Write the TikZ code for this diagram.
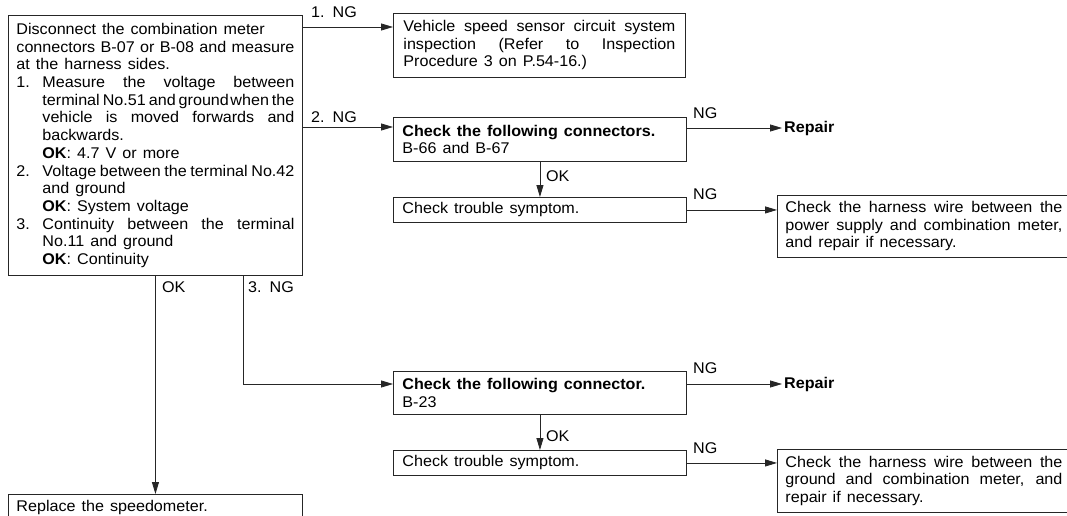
\documentclass[tikz,border=0pt]{standalone}
\usepackage{fontspec}
\setmainfont{Liberation Sans}[FakeStretch=1.04, WordSpace={1.35,1.3,2.5}]
\usetikzlibrary{arrows.meta}
\newdimen\hind \hind=26pt
\newcommand\JL[1]{\hbox to\hsize{#1}}
\newcommand\RL[1]{\hbox to\hsize{#1\hfil}}
\newcommand\HJ[2]{\hbox to\hsize{\hbox to\hind{#1\hss}#2}}
\newcommand\HI[1]{\hbox to\hsize{\hskip\hind\relax #1}}
\newcommand\HR[1]{\hbox to\hsize{\hskip\hind\relax #1\hfil}}
\newcommand\TB[3]{\vbox{\hsize=#1\fontsize{15.5}{#2}\selectfont\lineskiplimit=-5pt #3}}
\tikzset{
  box/.style={draw=black!85, line width=0.9pt, anchor=north west, inner sep=0pt},
  arr/.style={draw=black!85, line width=0.8pt, -{Triangle[length=12pt,width=7pt]}},
  lab/.style={anchor=base west, inner sep=0pt},
}
\begin{document}
\begin{tikzpicture}[x=1pt,y=-1pt, font=\fontsize{15.5}{17.5}\selectfont]
\clip (0,0) rectangle (1067,516);
\fill[white] (0,0) rectangle (1067,516);
% boxes
\node[box, minimum width=294pt, minimum height=260pt] (main) at (8,15) {\TB{278pt}{17.7pt}{%
\RL{Disconnect the combination meter}
\JL{connectors B-07 or B-08 and measure}
\RL{at the harness sides.}
\HJ{1.}{Measure the voltage between}
\HI{terminal\hskip 2.5pt plus 2pt No.51\hskip 2.5pt plus 2pt and\hskip 2.5pt plus 2pt ground\hskip 1pt plus 2pt when\hskip 2.5pt plus 2pt the}
\HI{vehicle is moved forwards and}
\HR{backwards.}
\HR{\textbf{OK}: 4.7 V or more}
\HJ{2.}{Voltage\hskip 3pt plus 2pt between\hskip 3pt plus 2pt the\hskip 3pt plus 2pt terminal\hskip 3pt plus 2pt No.42}
\HR{and ground}
\HR{\textbf{OK}: System voltage}
\HJ{3.}{Continuity between the terminal}
\HR{No.11 and ground}
\HR{\textbf{OK}: Continuity}}};
\node[box, minimum width=292pt, minimum height=64pt] (box1) at (393,13) {\TB{272pt}{17.5pt}{%
\JL{Vehicle speed sensor circuit system}
\JL{inspection (Refer to Inspection}
\RL{Procedure 3 on P.54-16.)}}};
\node[box, minimum width=293pt, minimum height=44pt] (box2) at (393,117) {\TB{275pt}{17.5pt}{%
\RL{\textbf{Check the following connectors.}}
\RL{B-66 and B-67}}};
\node[box, minimum width=293pt, minimum height=25pt] (box3) at (393,197) {\TB{275pt}{17.5pt}{%
\RL{Check trouble symptom.}}};
\node[box, minimum width=293pt, minimum height=62pt] (box4) at (777,195) {\TB{277pt}{17.5pt}{%
\JL{Check the harness wire between the}
\JL{power supply and combination meter,}
\RL{and repair if necessary.}}};
\node[box, minimum width=293pt, minimum height=43pt] (box5) at (393,371) {\TB{275pt}{17.5pt}{%
\RL{\textbf{Check the following connector.}}
\RL{B-23}}};
\node[box, minimum width=293pt, minimum height=25pt] (box6) at (393,450) {\TB{275pt}{17.5pt}{%
\RL{Check trouble symptom.}}};
\node[box, minimum width=293pt, minimum height=63pt] (box7) at (777,449) {\TB{277pt}{17.5pt}{%
\JL{Check the harness wire between the}
\JL{ground and combination meter, and}
\RL{repair if necessary.}}};
\node[box, minimum width=294pt, minimum height=26pt] (rep) at (8,494) {\TB{278pt}{17.5pt}{%
\RL{Replace the speedometer.}}};
\node[anchor=west, inner sep=2pt, font=\fontsize{15.5}{17.5}\selectfont\bfseries] (rep1) at (782,128) {Repair};
\node[anchor=west, inner sep=2pt, font=\fontsize{15.5}{17.5}\selectfont\bfseries] (rep2) at (782,384) {Repair};
% helper coordinates
\coordinate (y1) at (0,27);
\coordinate (y2) at (0,127);
\coordinate (y5) at (0,384);
\coordinate (c3) at (243,275);
% connectors
\draw[arr] (main.east |- y1) -- (box1.west |- y1);
\draw[arr] (main.east |- y2) -- (box2.west |- y2);
\draw[arr] (box2.east |- rep1.west) -- (rep1.west);
\draw[arr] (box2.south) -- (box3.north);
\draw[arr] (box3.east) -- (box4.west |- box3.east);
\draw[arr] (main.south) -- (rep.north);
\draw[arr] (main.south -| c3) -- (c3 |- y5) -- (box5.west |- y5);
\draw[arr] (box5.east |- rep2.west) -- (rep2.west);
\draw[arr] (box5.south) -- (box6.north);
\draw[arr] (box6.east) -- (box7.west |- box6.east);
% labels
\node[lab] (l1) at (311,18) {1.\hskip 8pt NG};
\node[lab] (l2) at (311,122) {2.\hskip 8pt NG};
\node[lab] (l3) at (693,119) {NG};
\node[lab] (l4) at (693,199) {NG};
\node[lab] (l5) at (693,373) {NG};
\node[lab] (l6) at (693,453) {NG};
\node[lab] (ok1) at (546,181) {OK};
\node[lab] (ok2) at (546,441) {OK};
\node[lab] (okm) at (162,292) {OK};
\node[lab] (ng3) at (248,292) {3.\hskip 8pt NG};
\end{tikzpicture}
\end{document}
